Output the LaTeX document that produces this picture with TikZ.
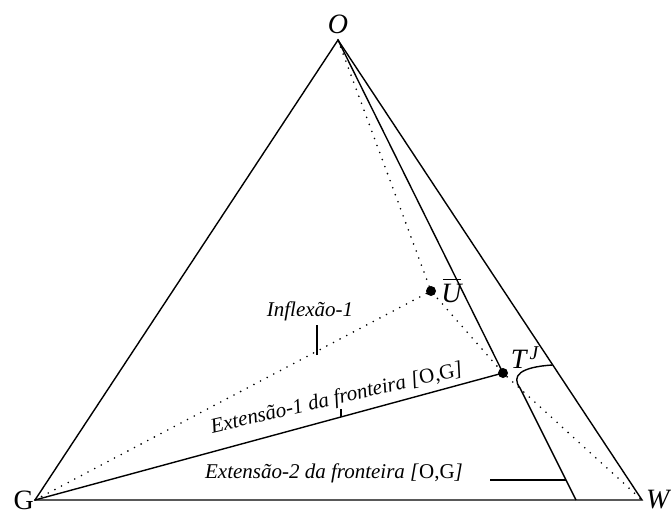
\documentclass[tikz,border=0pt]{standalone}
\usepackage{fontspec}
\setmainfont{Liberation Serif}
\usepackage{tikz}
\usetikzlibrary{positioning}

\newcommand{\barU}{\textit{U}\makebox[0pt][r]{\rule[0.80em]{0.66em}{0.05em}\hspace{0.01em}}}

\begin{document}
\begin{tikzpicture}[
            x=1pt, y=-1pt,
            edge/.style={line width=1.4pt},
            dots/.style={line width=1.8pt, dash pattern=on 0pt off 7.5pt, line cap=round},
            pt/.style={circle, fill, inner sep=0pt, minimum size=10pt},
            vlbl/.style={font=\fontsize{28}{31}\selectfont\itshape, inner sep=1pt},
            lbl/.style={font=\fontsize{21}{25}\selectfont\itshape, inner sep=0pt}
        ]
        \useasboundingbox (0,0) rectangle (671,512);

        % Vertices of the triangle
        \coordinate (O) at (338,40);
        \coordinate (G) at (35,500);
        \coordinate (W) at (642,500);

        % Marked points
        \node[pt] (U) at (431,291) {};
        \node[pt] (T) at (503,373) {};

        % Boundary ends
        \coordinate (B1) at (552.5,365);
        \coordinate (B2) at (576,500);

        % Triangle
        \draw[edge] (G) -- (O) -- (W) -- cycle;

        % Dotted lines
        \draw[dots] (O) -- (U.center) -- (T.center) -- (W);
        \draw[dots] (G) -- (U.center);

        % Solid curves
        \draw[edge] (O) -- (T.center);
        \draw[edge] (G) -- (T.center);
        \draw[edge] (B1) .. controls (520,367) and (511,376) .. (520,388) -- (B2);

        % Vertex labels
        \node[vlbl, above=5pt of O] {O};
        \node[vlbl, left=0pt of G, font=\fontsize{28}{31}\selectfont\upshape] {G};
        \node[vlbl, right=3pt of W] {W};
        \node[vlbl, right=4pt of U] {\barU};
        \node[vlbl, above right=0pt and 3pt of T] {T\textsuperscript{\,J}};

        % Curve labels with their ticks
        \node[lbl] (infl) at (310,311) {Inflexão-1};
        \draw[edge] (317,355) -- (317,325);
        \node[lbl, anchor=base, rotate=13] (ext1) at (338,404) {Extensão-1 da fronteira [\textup{O,G}]};
        \draw[edge] (341,417) -- (341,409);
        \node[lbl, anchor=base] (ext2) at (334,478) {Extensão-2 da fronteira [\textup{O,G}]};
        \draw[edge] (490,480) -- (566,480);
    \end{tikzpicture}
\end{document}
